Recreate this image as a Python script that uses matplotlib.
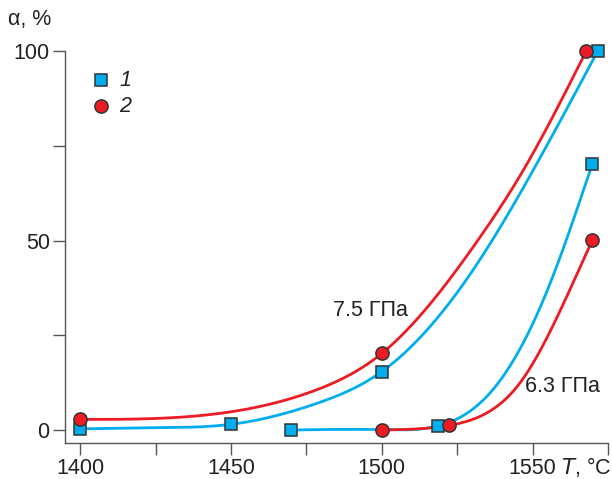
import numpy as np
import matplotlib
matplotlib.use("Agg")
import matplotlib.pyplot as plt

plt.rcParams['font.family'] = ['Liberation Sans', 'DejaVu Sans']

BLUE = "#00aeef"
RED = "#ed1c24"
EDGE = "#333333"
TXT = "#222222"
FS = 15.5

# measured points (T in degC, alpha in %)
sq_T = [1400, 1450, 1470, 1500, 1518.6, 1569.8, 1571.6]
sq_a = [0.3, 1.5, 0.0, 15.4, 1.0, 70.2, 100.0]
ci_T = [1400, 1500, 1567.8, 1500, 1522.2, 1569.8]
ci_a = [2.8, 20.2, 100.0, 0.0, 1.2, 50.1]

# fitted curves
blue75_T = [1400, 1425, 1450, 1478.4, 1500, 1532.5, 1549.6, 1571.6]
blue75_a = [0.3, 0.6, 1.5, 7.0, 15.4, 44.9, 67.7, 100.0]
red75_T = [1400, 1450, 1478.4, 1500, 1531.9, 1546.3, 1567.8]
red75_a = [2.8, 4.8, 10.6, 20.2, 50.1, 67.7, 100.0]
blue63_T = [1470, 1500, 1518.6, 1536.8, 1554.5, 1569.8]
blue63_a = [0.0, 0.1, 1.05, 10.6, 36.1, 70.2]
red63_T = [1500, 1522.2, 1534.6, 1545.7, 1562.3, 1569.8]
red63_a = [0.0, 1.2, 4.4, 12.3, 36.9, 50.1]


def spline(x, y, xs):
    # natural cubic spline through the read points
    x = np.asarray(x, float)
    y = np.asarray(y, float)
    n = len(x)
    h = np.diff(x)
    A = np.zeros((n, n))
    b = np.zeros(n)
    A[0, 0] = A[-1, -1] = 1
    for k in range(1, n - 1):
        A[k, k - 1] = h[k - 1]
        A[k, k] = 2 * (h[k - 1] + h[k])
        A[k, k + 1] = h[k]
        b[k] = 6 * ((y[k + 1] - y[k]) / h[k] - (y[k] - y[k - 1]) / h[k - 1])
    M = np.linalg.solve(A, b)
    i = np.clip(np.searchsorted(x, xs) - 1, 0, n - 2)
    t0 = x[i + 1] - xs
    t1 = xs - x[i]
    return (M[i] * t0**3 / (6 * h[i]) + M[i + 1] * t1**3 / (6 * h[i])
            + (y[i] / h[i] - M[i] * h[i] / 6) * t0
            + (y[i + 1] / h[i] - M[i + 1] * h[i] / 6) * t1)


fig = plt.figure(figsize=(6.12, 4.79), dpi=100)
ax = fig.add_axes([65 / 612, 36 / 479, 543 / 612, 392 / 479])

for T, a, c, z in [(blue75_T, blue75_a, BLUE, 2), (red75_T, red75_a, RED, 2),
                   (blue63_T, blue63_a, BLUE, 2), (red63_T, red63_a, RED, 2.1)]:
    xs = np.linspace(T[0], T[-1], 400)
    ax.plot(xs, spline(T, a, xs), color=c, lw=2.0, zorder=z, clip_on=False)

ax.plot(sq_T, sq_a, ls="none", marker="s", ms=9, mfc=BLUE, mec=EDGE, mew=1.1,
        zorder=4, clip_on=False)
ax.plot(ci_T, ci_a, ls="none", marker="o", ms=9.5, mfc=RED, mec=EDGE, mew=1.1,
        zorder=5, clip_on=False)

ax.set_xlim(1395, 1575)
ax.set_ylim(-3.43, 100)
ax.set_xticks(np.arange(1400, 1576, 25))
ax.set_xticklabels(["1400", "", "1450", "", "1500", "", "1550", ""])
ax.set_yticks([0, 25, 50, 75, 100])
ax.set_yticklabels(["0", "", "50", "", "100"])
for s in ["top", "right"]:
    ax.spines[s].set_visible(False)
for s in ["left", "bottom"]:
    ax.spines[s].set_color("#555555")
    ax.spines[s].set_linewidth(1.0)
ax.tick_params(direction="out", length=8.5, width=1.0, color="#555555",
               labelsize=FS, labelcolor=TXT, pad=2.5)

fig.text(8 / 612, 1 - 20 / 479, "α, %", fontsize=FS, color=TXT, va="center")
fig.text(561 / 612, 1 - 467 / 479, "$\\it{T}$, °C", fontsize=FS, color=TXT,
         va="center")

# legend
ax.plot([1407], [92.3], ls="none", marker="s", ms=9, mfc=BLUE, mec=EDGE, mew=1.1,
        clip_on=False)
ax.plot([1407], [85.4], ls="none", marker="o", ms=9.5, mfc=RED, mec=EDGE, mew=1.1,
        clip_on=False)
ax.text(1413, 92.3, "1", fontsize=FS, style="italic", color=TXT, va="center")
ax.text(1413, 85.4, "2", fontsize=FS, style="italic", color=TXT, va="center")

ax.text(1484, 31.5, "7.5 ГПа", fontsize=FS, color=TXT, va="center")
ax.text(1547.5, 11.5, "6.3 ГПа", fontsize=FS, color=TXT, va="center")

fig.savefig("out.png", dpi=100)
plt.close(fig)
